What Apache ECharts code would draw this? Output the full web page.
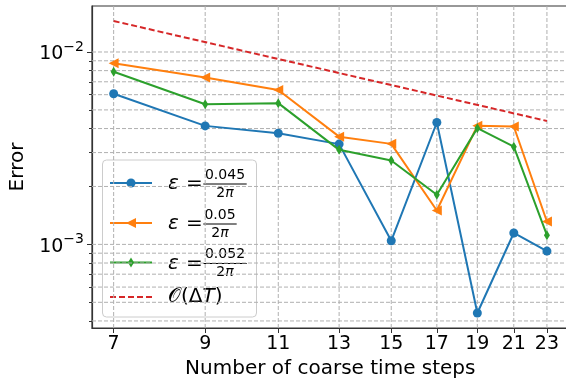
<!DOCTYPE html>
<html>
<head>
<meta charset="utf-8">
<script src="https://cdn.jsdelivr.net/npm/echarts@6/dist/echarts.min.js"></script>
<style>
  html, body { margin: 0; padding: 0; background: #fff; }
  #chart { width: 566px; height: 385px; }
</style>
</head>
<body>
<div id="chart"></div>
<script>
// Number of coarse time steps (log-scaled x axis)
const steps = [7, 9, 11, 13, 15, 17, 19, 21, 23];

// Error for each epsilon value
const err045 = [6.07e-3, 4.13e-3, 3.78e-3, 3.32e-3, 1.044e-3, 4.30e-3, 4.40e-4, 1.146e-3, 9.23e-4];
const err050 = [8.73e-3, 7.36e-3, 6.35e-3, 3.63e-3, 3.33e-3, 1.50e-3, 4.14e-3, 4.10e-3, 1.315e-3];
const err052 = [7.90e-3, 5.35e-3, 5.42e-3, 3.10e-3, 2.73e-3, 1.81e-3, 4.02e-3, 3.22e-3, 1.117e-3];

// Reference first-order slope O(dT)
const refSteps = [7, 23];
const refErr = [1.449e-2, 4.38e-3];

// Axis ticks
const xTicks = [7, 9, 11, 13, 15, 17, 19, 21, 23];
const yMajor = [1e-3, 1e-2];
const yMinor = [4e-4, 5e-4, 6e-4, 7e-4, 8e-4, 9e-4,
                2e-3, 3e-3, 4e-3, 5e-3, 6e-3, 7e-3, 8e-3, 9e-3];

const X_MIN = 6.596, X_MAX = 24.41;
const Y_MIN = 3.676e-4, Y_MAX = 1.734e-2;

const FONT = 'DejaVu Sans';
const C_BLUE = '#1f77b4', C_ORANGE = '#ff7f0e', C_GREEN = '#2ca02c', C_RED = '#d62728';
const GRID_COLOR = '#b0b0b0';
const SPINE = '#333333';

const pairs = (xs, ys) => xs.map((x, i) => [x, ys[i]]);

const chart = echarts.init(document.getElementById('chart'), null, { renderer: 'canvas' });

// Legend drawn as graphic group (fractions in labels)
const LX = 110, LX2 = 152, LMID = 131;
const rowY = [183, 223, 262.5, 297];
function legendLine(y, color, dashed) {
  return {
    type: 'line', shape: { x1: LX, y1: y, x2: LX2, y2: y },
    style: { stroke: color, lineWidth: 2, lineDash: dashed ? [6, 3] : null }
  };
}
function fraction(y, num, x0, x1) {
  const cx = (x0 + x1) / 2;
  return [
    { type: 'text', x: 168, y: y + 1, style: { text: 'ε', font: 'italic 20px ' + FONT, fill: '#000', verticalAlign: 'middle', align: 'left' } },
    { type: 'text', x: 186, y: y + 1, style: { text: '=', font: '20px ' + FONT, fill: '#000', verticalAlign: 'middle', align: 'left' } },
    { type: 'text', x: cx, y: y - 8, style: { text: num, font: '14px ' + FONT, fill: '#000', verticalAlign: 'middle', align: 'center' } },
    { type: 'line', shape: { x1: x0, y1: y + 1, x2: x1, y2: y + 1 }, style: { stroke: '#000', lineWidth: 1 } },
    { type: 'text', x: cx, y: y + 10, style: {
        text: '{n|2}{i|π}', verticalAlign: 'middle', align: 'center',
        rich: { n: { fontFamily: FONT, fontSize: 14, fill: '#000' },
                i: { fontFamily: FONT, fontSize: 14, fontStyle: 'italic', fill: '#000' } }
      } }
  ];
}

const legendGraphic = {
  type: 'group', z: 100,
  children: [
    { type: 'rect', shape: { x: 102.5, y: 160, width: 154, height: 157, r: 4 },
      style: { fill: 'rgba(255,255,255,0.8)', stroke: '#cccccc', lineWidth: 1 } },
    legendLine(rowY[0], C_BLUE),
    { type: 'circle', shape: { cx: LMID, cy: rowY[0], r: 4.5 }, style: { fill: C_BLUE } },
    ...fraction(rowY[0], '0.045', 203.3, 246.7),
    legendLine(rowY[1], C_ORANGE),
    { type: 'polygon', shape: { points: [[LMID - 5, rowY[1]], [LMID + 5, rowY[1] - 5], [LMID + 5, rowY[1] + 5]] }, style: { fill: C_ORANGE } },
    ...fraction(rowY[1], '0.05', 203.3, 236.7),
    legendLine(rowY[2], C_GREEN),
    { type: 'polygon', shape: { points: [[LMID, rowY[2] - 5], [LMID + 3, rowY[2]], [LMID, rowY[2] + 5], [LMID - 3, rowY[2]]] }, style: { fill: C_GREEN } },
    ...fraction(rowY[2], '0.052', 203.3, 246.7),
    legendLine(rowY[3], C_RED, true),
    { type: 'text', x: 168, y: rowY[3], style: {
        text: '{n|𝒪(Δ}{i|T}{n|)}', verticalAlign: 'middle', align: 'left',
        rich: { n: { fontFamily: FONT, fontSize: 20, fill: '#000' },
                i: { fontFamily: FONT, fontSize: 20, fontStyle: 'italic', fill: '#000' } }
      } }
  ]
};

const gridLineStyle = { color: GRID_COLOR, width: 1, type: [4, 2] };

// Dashed grid lines, each drawn as a two-point series spanning the plot
const gridSeries = [];
yMajor.concat(yMinor).forEach(v => gridSeries.push({
  type: 'line', z: 0, silent: true, symbol: 'none', animation: false,
  data: [[X_MIN, v], [X_MAX, v]], lineStyle: gridLineStyle
}));
xTicks.forEach(v => gridSeries.push({
  type: 'line', z: 0, silent: true, symbol: 'none', animation: false,
  data: [[v, Y_MIN], [v, Y_MAX]], lineStyle: gridLineStyle
}));

const option = {
  animation: false,
  backgroundColor: '#ffffff',
  grid: {
    left: 92, top: 6, width: 476.6, height: 322,
    show: true, borderColor: SPINE, borderWidth: 1.2, backgroundColor: 'transparent',
    outerBoundsMode: 'none', containLabel: false
  },
  xAxis: {
    type: 'log', logBase: 10, min: X_MIN, max: X_MAX,
    name: 'Number of coarse time steps', nameLocation: 'middle', nameGap: 30,
    nameTextStyle: { fontFamily: FONT, fontSize: 20, color: '#000' },
    axisLine: { show: true, lineStyle: { color: SPINE, width: 1.2 } },
    axisTick: { show: true, customValues: xTicks, length: 5, lineStyle: { color: SPINE, width: 1 } },
    axisLabel: { customValues: xTicks, margin: 7, fontFamily: FONT, fontSize: 19, color: '#000',
                 formatter: v => String(Math.round(v)) },
    splitLine: { show: false },
    minorTick: { show: false }, minorSplitLine: { show: false }
  },
  yAxis: [
    {
      type: 'log', logBase: 10, min: Y_MIN, max: Y_MAX,
      name: 'Error', nameLocation: 'middle', nameGap: 64, nameRotate: 90,
      nameTextStyle: { fontFamily: FONT, fontSize: 20, color: '#000' },
      axisLine: { show: true, lineStyle: { color: SPINE, width: 1.2 } },
      axisTick: { show: true, customValues: yMajor, length: 5, lineStyle: { color: SPINE, width: 1 } },
      axisLabel: {
        customValues: yMajor, margin: 8,
        formatter: v => '{b|10}{s|−' + Math.round(-Math.log10(v)) + '}',
        rich: {
          b: { fontFamily: FONT, fontSize: 19, color: '#000', verticalAlign: 'bottom', lineHeight: 24 },
          s: { fontFamily: FONT, fontSize: 14, color: '#000', verticalAlign: 'top', lineHeight: 24 }
        }
      },
      splitLine: { show: false }, minorTick: { show: false }
    },
    {
      type: 'log', logBase: 10, min: Y_MIN, max: Y_MAX, position: 'left',
      axisLine: { show: false },
      axisTick: { show: true, customValues: yMinor, length: 3, lineStyle: { color: SPINE, width: 1 } },
      axisLabel: { show: false },
      splitLine: { show: false }, minorTick: { show: false }
    }
  ],
  series: gridSeries.concat([
    {
      name: 'eps045', type: 'line', z: 3, data: pairs(steps, err045),
      symbol: 'circle', symbolSize: 9, showAllSymbol: true,
      lineStyle: { color: C_BLUE, width: 2 }, itemStyle: { color: C_BLUE }
    },
    {
      name: 'eps050', type: 'line', z: 4, data: pairs(steps, err050),
      symbol: 'triangle', symbolSize: [10, 10], symbolRotate: 90, showAllSymbol: true,
      lineStyle: { color: C_ORANGE, width: 2 }, itemStyle: { color: C_ORANGE }
    },
    {
      name: 'eps052', type: 'line', z: 5, data: pairs(steps, err052),
      symbol: 'diamond', symbolSize: [6, 10], showAllSymbol: true,
      lineStyle: { color: C_GREEN, width: 2 }, itemStyle: { color: C_GREEN }
    },
    {
      name: 'ref', type: 'line', z: 6, data: pairs(refSteps, refErr),
      symbol: 'none',
      lineStyle: { color: C_RED, width: 2, type: [6, 3] }
    }
  ]),
  graphic: [legendGraphic]
};

chart.setOption(option);
</script>
</body>
</html>
